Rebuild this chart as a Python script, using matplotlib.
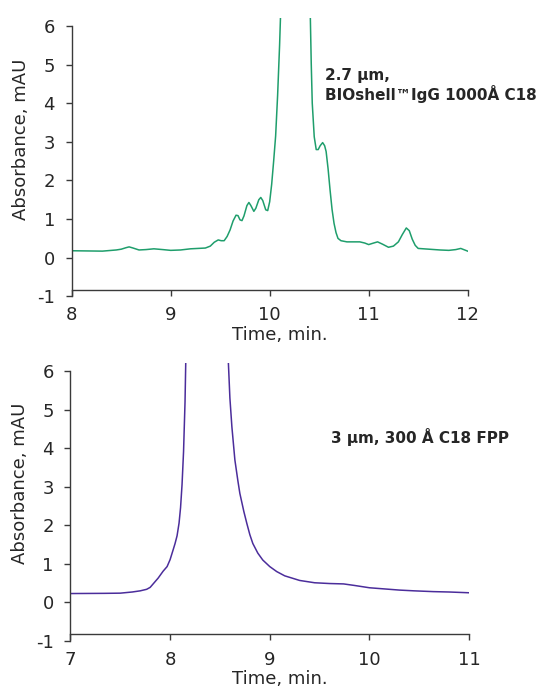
import matplotlib
matplotlib.use("Agg")
import matplotlib.pyplot as plt

# top chromatogram: 2.7 um BIOshell IgG 1000A C18
top_time = [8.0, 8.31, 8.45, 8.5, 8.55, 8.58, 8.62, 8.68, 8.75, 8.83, 8.92, 9.0,
            9.1, 9.2, 9.35, 9.4, 9.44, 9.48, 9.51, 9.54, 9.57, 9.6, 9.63, 9.66,
            9.68, 9.7, 9.72, 9.74, 9.77, 9.79, 9.81, 9.84, 9.86, 9.89, 9.91, 9.93,
            9.96, 9.98, 10.0, 10.02, 10.04, 10.06, 10.08, 10.1, 10.11, 10.15, 10.2,
            10.26, 10.33, 10.38, 10.41, 10.42, 10.43, 10.45, 10.47, 10.49, 10.51,
            10.535, 10.555, 10.57, 10.59, 10.61, 10.63, 10.65, 10.67, 10.69, 10.72,
            10.78, 10.85, 10.91, 10.96, 11.0, 11.05, 11.09, 11.14, 11.2, 11.25,
            11.3, 11.34, 11.38, 11.41, 11.44, 11.47, 11.5, 11.61, 11.72, 11.81,
            11.88, 11.93, 11.97, 12.0]
top_abs = [0.18, 0.17, 0.2, 0.22, 0.26, 0.28, 0.25, 0.2, 0.21, 0.23, 0.21, 0.19,
           0.2, 0.23, 0.25, 0.3, 0.4, 0.46, 0.44, 0.44, 0.55, 0.72, 0.95, 1.1,
           1.09, 0.98, 0.96, 1.08, 1.35, 1.43, 1.35, 1.2, 1.28, 1.5, 1.56, 1.48,
           1.24, 1.22, 1.45, 1.9, 2.5, 3.15, 4.2, 5.5, 6.3, 9.0, 20.0,
           28.0, 20.0, 9.0, 6.3, 5.0, 4.0, 3.13, 2.8, 2.8, 2.9,
           2.98, 2.9, 2.75, 2.3, 1.75, 1.25, 0.89, 0.65, 0.5, 0.44,
           0.41, 0.41, 0.41, 0.38, 0.34, 0.38, 0.41, 0.35, 0.27, 0.3,
           0.41, 0.6, 0.77, 0.7, 0.48, 0.32, 0.24, 0.22, 0.2, 0.19,
           0.21, 0.24, 0.2, 0.17]

# bottom chromatogram: 3 um 300A C18 FPP
bot_time = [7.0, 7.34, 7.5, 7.62, 7.7, 7.765, 7.8, 7.83, 7.88, 7.93, 7.97, 8.0,
            8.03, 8.05, 8.07, 8.09, 8.105, 8.12, 8.135, 8.15, 8.157, 8.2, 8.3,
            8.4, 8.5, 8.56, 8.585, 8.6, 8.62, 8.65, 8.68, 8.7, 8.74, 8.77, 8.8,
            8.83, 8.88, 8.93, 9.0, 9.07, 9.15, 9.3, 9.45, 9.6, 9.74, 9.85, 10.0,
            10.15, 10.3, 10.45, 10.64, 10.8, 11.0]
bot_abs = [0.22, 0.225, 0.23, 0.26, 0.29, 0.33, 0.38, 0.47, 0.62, 0.8, 0.92, 1.1,
           1.35, 1.52, 1.72, 2.05, 2.45, 3.05, 3.9, 5.2, 6.2, 9.0, 20.0,
           25.0, 15.0, 8.0, 6.2, 5.3, 4.55, 3.69, 3.15, 2.82, 2.35, 2.04, 1.75,
           1.52, 1.27, 1.09, 0.92, 0.79, 0.68, 0.56, 0.5, 0.48, 0.47, 0.43, 0.37,
           0.34, 0.31, 0.29, 0.27, 0.26, 0.24]

y_ticks = [-1, 0, 1, 2, 3, 4, 5, 6]
top_xticks = [8, 9, 10, 11, 12]
bot_xticks = [7, 8, 9, 10, 11]

top_label = "2.7 µm,\nBIOshell™IgG 1000Å C18"
bot_label = "3 µm, 300 Å C18 FPP"

text_color = "#262626"
axis_color = "#3a3a3a"

plt.rcParams['font.family'] = ['DejaVu Sans']
plt.rcParams['axes.unicode_minus'] = False

fig = plt.figure(figsize=(5.44, 6.92), dpi=100)


def style_axes(ax, xticks, xlabel_x, ylabel_y):
    ax.set_ylim(-1, 6.2)
    ax.set_xlim(xticks[0], xticks[-1])
    ax.set_yticks(y_ticks)
    ax.set_xticks(xticks)
    for side in ['top', 'right']:
        ax.spines[side].set_visible(False)
    ax.spines['bottom'].set_position(('data', -0.83))
    ax.spines['left'].set_bounds(-1, 6)
    for side in ['left', 'bottom']:
        ax.spines[side].set_color(axis_color)
        ax.spines[side].set_linewidth(1.0)
    ax.tick_params(axis='both', direction='out', length=4, width=1.0,
                   color=axis_color, labelsize=13, labelcolor=text_color)
    ax.tick_params(axis='y', pad=8)
    ax.tick_params(axis='x', pad=8)
    ax.set_ylabel("Absorbance, mAU", fontsize=13, color=text_color)
    ax.set_xlabel("Time, min.", fontsize=13, color=text_color, va='top')
    ax.yaxis.set_label_coords(-0.105, ylabel_y)
    ax.xaxis.set_label_coords(xlabel_x, -0.105)


ax1 = fig.add_axes([0.1318, 0.5718, 0.7279, 0.4018])
ax1.plot(top_time, top_abs, color="#1f9e6c", lw=1.1)
style_axes(ax1, top_xticks, 0.526, 0.565)
ax1.text(10.56, 4.91, top_label, fontsize=11, fontweight='bold',
         color=text_color, ha='left', va='top', linespacing=1.1)

ax2 = fig.add_axes([0.1294, 0.0744, 0.733, 0.4006])
ax2.plot(bot_time, bot_abs, color="#4b2d9b", lw=1.1)
style_axes(ax2, bot_xticks, 0.526, 0.568)
ax2.text(9.61, 4.52, bot_label, fontsize=11, fontweight='bold',
         color=text_color, ha='left', va='top')

fig.savefig("out.png", dpi=100)
